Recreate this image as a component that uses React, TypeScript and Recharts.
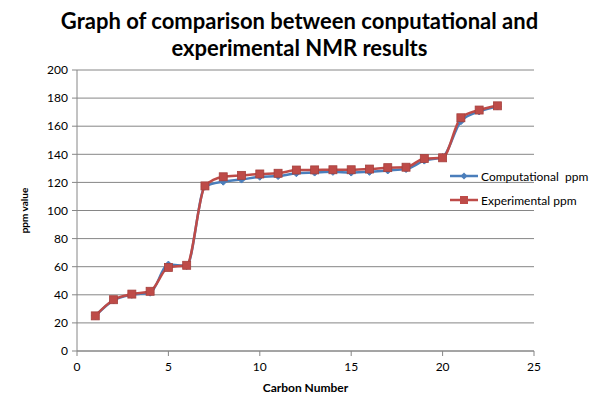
import { LineChart, Line, XAxis, YAxis, CartesianGrid, Label } from 'recharts';

document.body.style.margin = '0';

const carbonNumbers = [1, 2, 3, 4, 5, 6, 7, 8, 9, 10, 11, 12, 13, 14, 15, 16, 17, 18, 19, 20, 21, 22, 23];
const computationalPpm = [25, 36, 40, 41.5, 61.5, 60.5, 117, 120.5, 122, 124, 124.5, 126.5, 127, 127.5, 127, 127.5, 128.5, 129.5, 135.5, 138, 163.5, 170.5, 174];
const experimentalPpm = [25, 36.5, 40.5, 42.5, 59.5, 61, 117.5, 124, 125, 126, 126.5, 128.8, 128.9, 129, 129, 129.5, 130.5, 130.8, 137, 137.5, 166, 171.5, 174.5];
const xTicks = [0, 5, 10, 15, 20, 25];
const yTicks = [0, 20, 40, 60, 80, 100, 120, 140, 160, 180, 200];

const BLUE = '#4A7EBB';
const RED = '#BE4B48';
const FONT = 'Lato, "Open Sans", sans-serif';

const data = carbonNumbers.map((c, i) => ({
  carbon: c,
  comp: computationalPpm[i],
  exp: experimentalPpm[i],
}));

function Diamond(props: any) {
  const { cx, cy, key } = props;
  if (cx == null || cy == null) return null;
  const s = 3.5;
  return <path key={key} d={`M${cx},${cy - s}L${cx + s},${cy}L${cx},${cy + s}L${cx - s},${cy}Z`} fill={BLUE} stroke={BLUE} />;
}

function Square(props: any) {
  const { cx, cy, key } = props;
  if (cx == null || cy == null) return null;
  return <rect key={key} x={cx - 4} y={cy - 4} width={8} height={8} fill={RED} stroke="#A5403D" strokeWidth={0.8} />;
}

// legend drawn outside the chart so it doesn't eat plot space
function LegendBox() {
  const rows = [
    { name: 'Computational  ppm', color: BLUE, square: false },
    { name: 'Experimental ppm', color: RED, square: true },
  ];
  return (
    <div style={{ position: 'absolute', left: 450, top: 164, fontFamily: FONT, fontSize: 12, color: '#000' }}>
      {rows.map((r) => (
        <div key={r.name} style={{ display: 'flex', alignItems: 'center', height: 24 }}>
          <svg width={28} height={10} style={{ marginRight: 3 }}>
            <line x1={0} y1={5} x2={28} y2={5} stroke={r.color} strokeWidth={2.5} />
            {r.square ? (
              <rect x={10} y={1} width={8} height={8} fill={r.color} />
            ) : (
              <path d="M14,1.5L17.5,5L14,8.5L10.5,5Z" fill={r.color} />
            )}
          </svg>
          <span style={{ whiteSpace: 'pre' }}>{r.name}</span>
        </div>
      ))}
    </div>
  );
}

export default function App() {
  return (
    <div style={{ position: 'relative', width: 599, height: 396, background: '#fff' }}>
      <div
        style={{
          position: 'absolute',
          top: 7,
          left: 0,
          width: 599,
          textAlign: 'center',
          fontFamily: FONT,
          fontWeight: 'bold',
          fontSize: 22,
          lineHeight: '27px',
          color: '#000',
        }}
      >
        Graph of comparison between conputational and
        <br />
        experimental NMR results
      </div>
      <LineChart width={599} height={396} data={data} margin={{ top: 70, right: 65, bottom: 0, left: 0 }}>
        <CartesianGrid vertical={false} stroke="#868686" strokeWidth={1} />
        <XAxis
          dataKey="carbon"
          type="number"
          domain={[0, 25]}
          ticks={xTicks}
          interval={0}
          stroke="#868686"
          tickSize={5}
          tick={{ fill: '#000', fontSize: 12, fontFamily: FONT }}
          tickMargin={6}
          height={45}
        >
          <Label value="Carbon Number" position="insideBottom" offset={4} style={{ fontWeight: 'bold', fontSize: 12, fill: '#000', fontFamily: FONT }} />
        </XAxis>
        <YAxis
          type="number"
          domain={[0, 200]}
          ticks={yTicks}
          interval={0}
          stroke="#868686"
          tickSize={5}
          width={77}
          tick={{ fill: '#000', fontSize: 12, fontFamily: FONT }}
          tickMargin={4}
        >
          <Label value="ppm value" angle={-90} position="insideLeft" offset={24} style={{ fontWeight: 'bold', fontSize: 10, fill: '#000', fontFamily: FONT, textAnchor: 'middle' }} />
        </YAxis>
        <Line
          type="monotone"
          dataKey="comp"
          name="Computational  ppm"
          stroke={BLUE}
          strokeWidth={2.5}
          dot={Diamond}
          isAnimationActive={false}
        />
        <Line
          type="monotone"
          dataKey="exp"
          name="Experimental ppm"
          stroke={RED}
          strokeWidth={2.5}
          dot={Square}
          isAnimationActive={false}
        />
      </LineChart>
      <LegendBox />
    </div>
  );
}
